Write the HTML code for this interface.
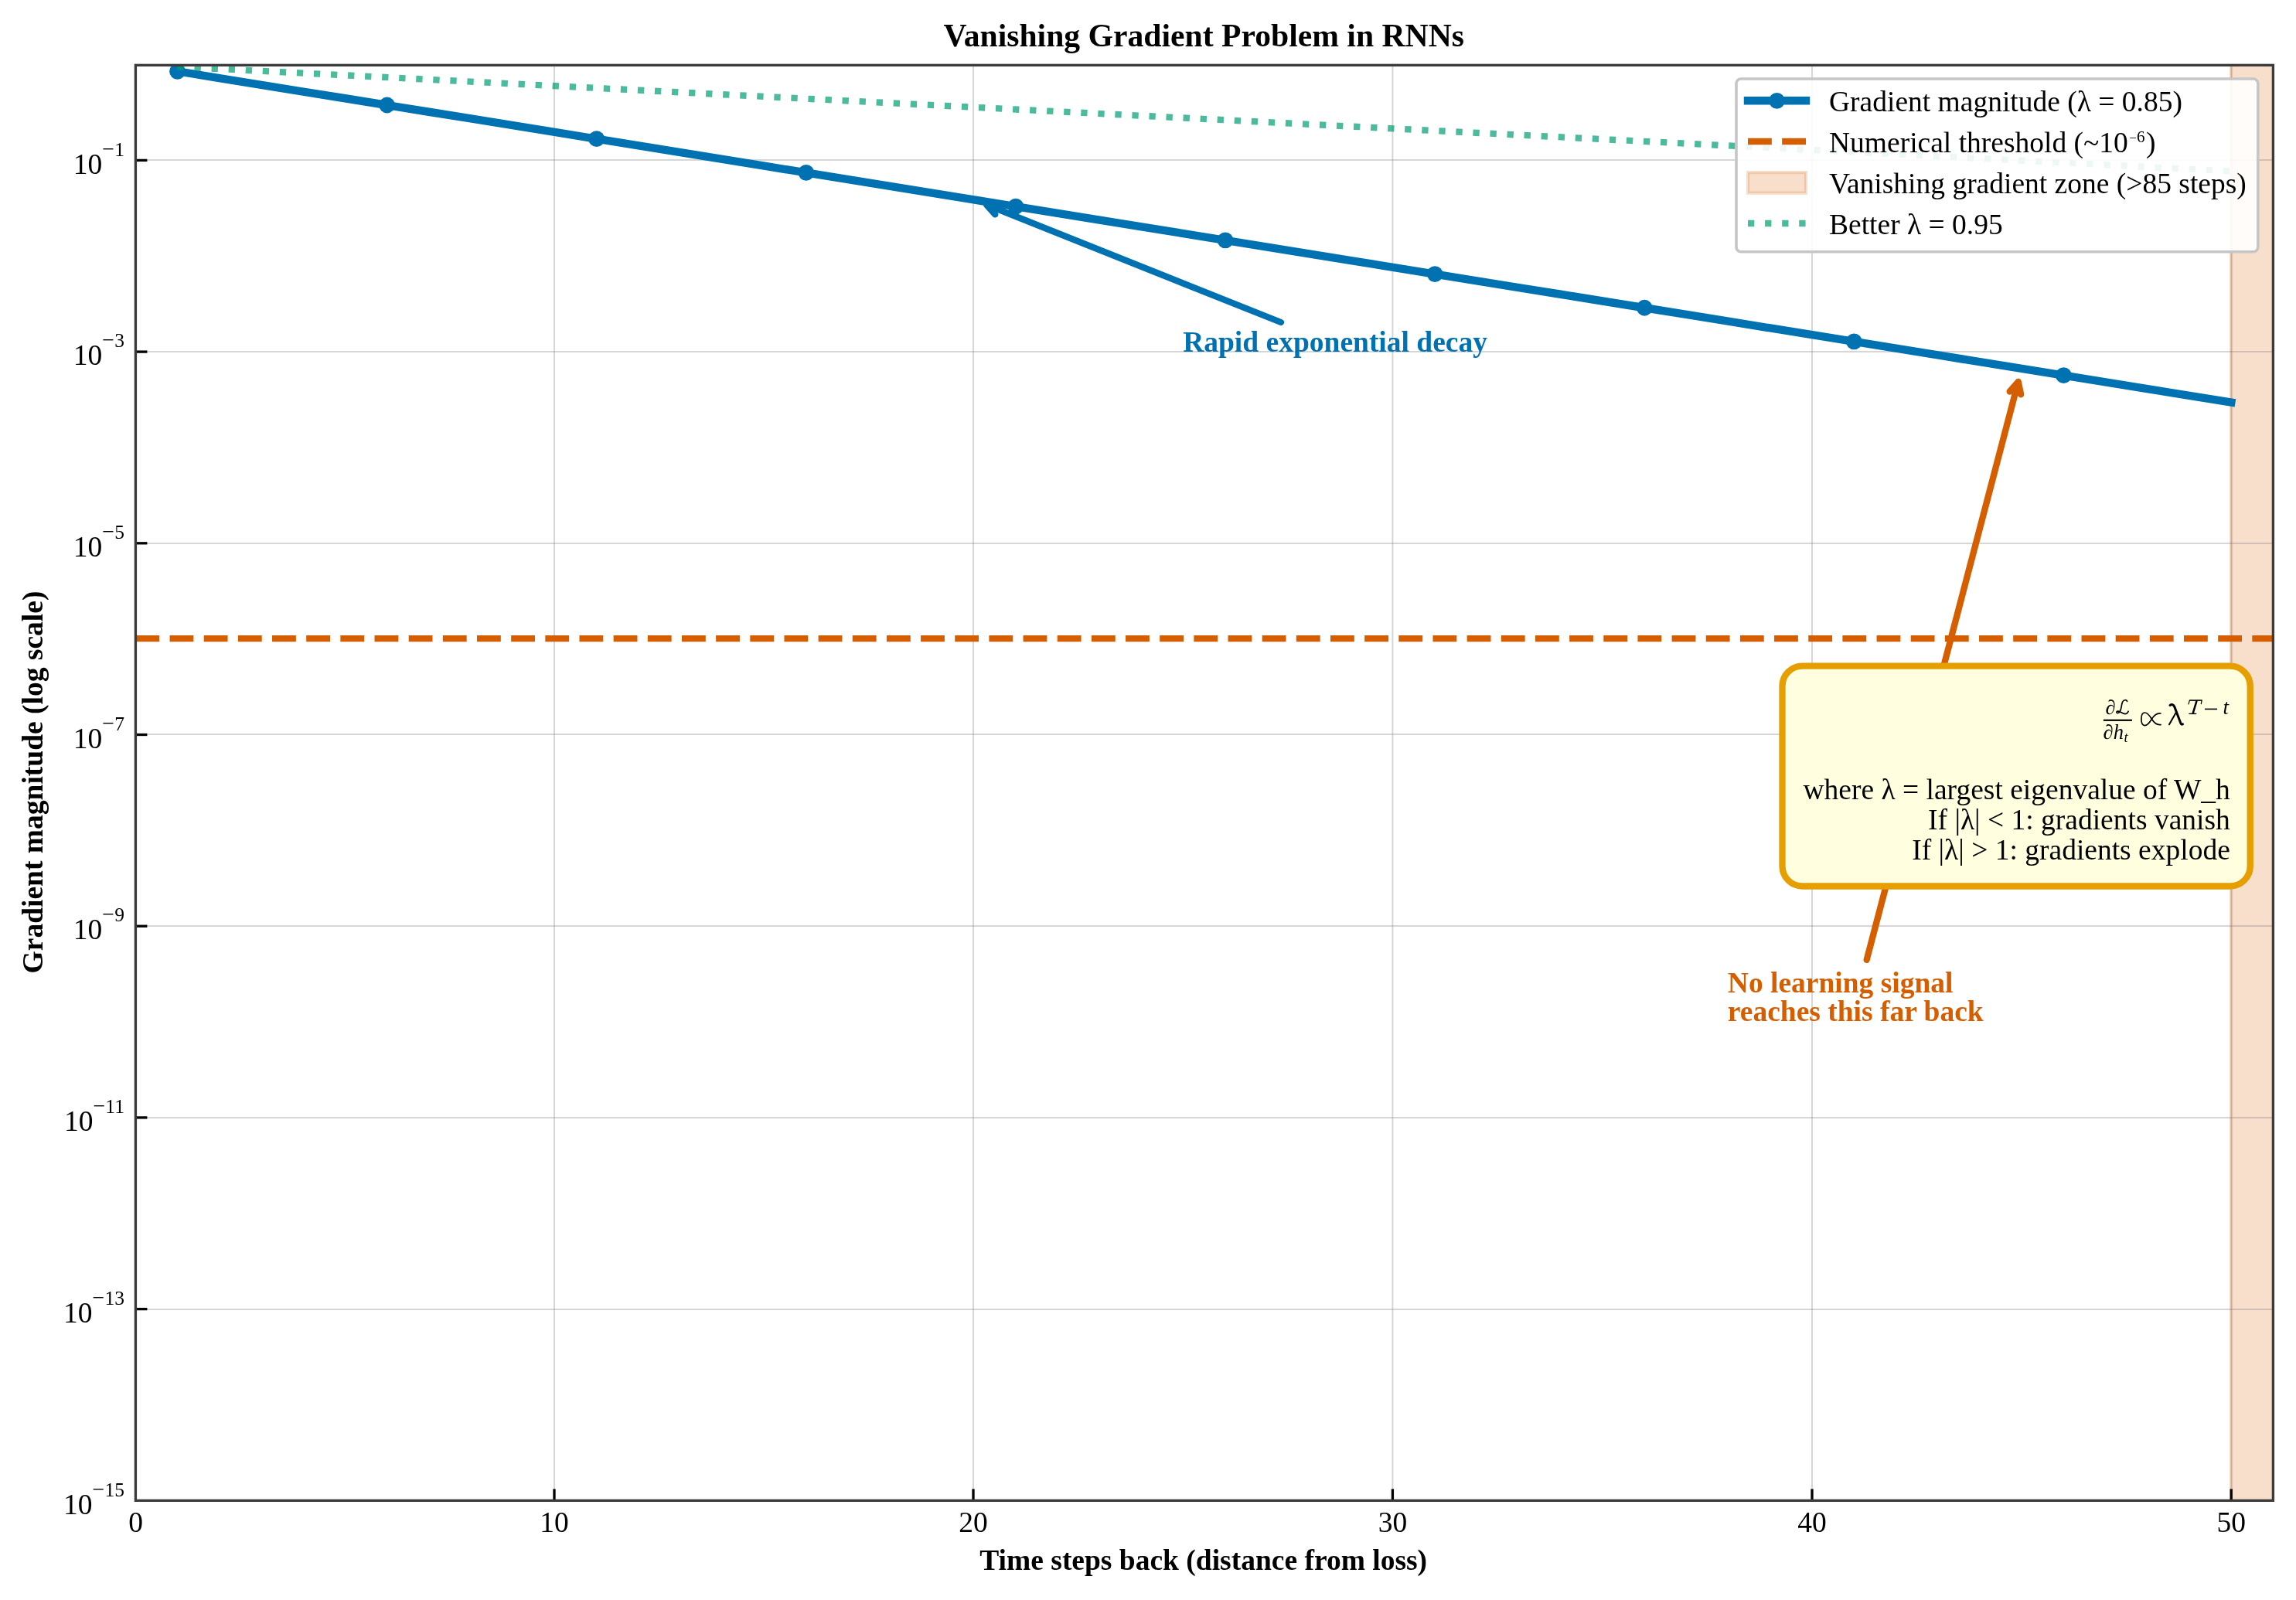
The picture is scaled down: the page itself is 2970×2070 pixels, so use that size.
<!DOCTYPE html>
<html><head><meta charset="utf-8"><title>Vanishing Gradient Problem in RNNs</title>
<style>html,body{margin:0;padding:0;background:#fff}body{width:2970px;height:2070px;overflow:hidden}svg{display:block;will-change:transform}text{font-family:"Liberation Serif",serif;}</style></head><body>
<svg width="2970" height="2070" viewBox="0 0 2970 2070">
<rect width="2970" height="2070" fill="#fff"/>
<defs><clipPath id="ax"><rect x="175.40" y="84.33" width="2765.00" height="1857.02"/></clipPath></defs>
<g clip-path="url(#ax)">
<rect x="2886.00" y="0" width="200" height="2070" fill="#D55E00" fill-opacity="0.2"/>
<line x1="2886.00" y1="0" x2="2886.00" y2="2070" stroke="#D55E00" stroke-opacity="0.2" stroke-width="4.17"/>
<rect x="716.00" y="84.33" width="2" height="1857.02" fill="#777" fill-opacity="0.3"/>
<rect x="1258.00" y="84.33" width="2" height="1857.02" fill="#777" fill-opacity="0.3"/>
<rect x="1800.40" y="84.33" width="2" height="1857.02" fill="#777" fill-opacity="0.3"/>
<rect x="2343.00" y="84.33" width="2" height="1857.02" fill="#777" fill-opacity="0.3"/>
<rect x="2885.20" y="84.33" width="2" height="1857.02" fill="#777" fill-opacity="0.3"/>
<rect x="175.40" y="206.00" width="2765.00" height="2" fill="#777" fill-opacity="0.3"/>
<rect x="175.40" y="454.00" width="2765.00" height="2" fill="#777" fill-opacity="0.3"/>
<rect x="175.40" y="702.00" width="2765.00" height="2" fill="#777" fill-opacity="0.3"/>
<rect x="175.40" y="949.00" width="2765.00" height="2" fill="#777" fill-opacity="0.3"/>
<rect x="175.40" y="1197.00" width="2765.00" height="2" fill="#777" fill-opacity="0.3"/>
<rect x="175.40" y="1445.00" width="2765.00" height="2" fill="#777" fill-opacity="0.3"/>
<rect x="175.40" y="1693.00" width="2765.00" height="2" fill="#777" fill-opacity="0.3"/>
<polyline points="229.52,92.29 283.74,101.03 337.96,109.77 392.18,118.52 446.40,127.26 500.62,136.00 554.84,144.74 609.06,153.48 663.28,162.22 717.50,170.96 771.72,179.71 825.94,188.45 880.16,197.19 934.38,205.93 988.60,214.67 1042.82,223.41 1097.04,232.15 1151.26,240.90 1205.48,249.64 1259.70,258.38 1313.92,267.12 1368.14,275.86 1422.36,284.60 1476.58,293.35 1530.80,302.09 1585.02,310.83 1639.24,319.57 1693.46,328.31 1747.68,337.05 1801.90,345.79 1856.12,354.54 1910.34,363.28 1964.56,372.02 2018.78,380.76 2073.00,389.50 2127.22,398.24 2181.44,406.98 2235.66,415.73 2289.88,424.47 2344.10,433.21 2398.32,441.95 2452.54,450.69 2506.76,459.43 2560.98,468.17 2615.20,476.92 2669.42,485.66 2723.64,494.40 2777.86,503.14 2832.08,511.88 2886.30,520.62" fill="none" stroke="#0072B2" stroke-width="10.42" stroke-linejoin="round" stroke-linecap="square"/>
<circle cx="229.52" cy="92.29" r="10.4" fill="#0072B2"/>
<circle cx="500.62" cy="136.00" r="10.4" fill="#0072B2"/>
<circle cx="771.72" cy="179.71" r="10.4" fill="#0072B2"/>
<circle cx="1042.82" cy="223.41" r="10.4" fill="#0072B2"/>
<circle cx="1313.92" cy="267.12" r="10.4" fill="#0072B2"/>
<circle cx="1585.02" cy="310.83" r="10.4" fill="#0072B2"/>
<circle cx="1856.12" cy="354.54" r="10.4" fill="#0072B2"/>
<circle cx="2127.22" cy="398.24" r="10.4" fill="#0072B2"/>
<circle cx="2398.32" cy="441.95" r="10.4" fill="#0072B2"/>
<circle cx="2669.42" cy="485.66" r="10.4" fill="#0072B2"/>
<line x1="175.40" y1="826.10" x2="2945.40" y2="826.10" stroke="#D55E00" stroke-width="8.33" stroke-dasharray="30.83 13.33"/>
<line x1="229.52" y1="86.31" x2="2886.30" y2="221.50" stroke="#009E73" stroke-opacity="0.7" stroke-width="8.33" stroke-dasharray="8.33 13.75"/>
</g>
<rect x="715.35" y="1926.35" width="3.3" height="15.00" fill="#000"/>
<rect x="1257.35" y="1926.35" width="3.3" height="15.00" fill="#000"/>
<rect x="1799.75" y="1926.35" width="3.3" height="15.00" fill="#000"/>
<rect x="2342.35" y="1926.35" width="3.3" height="15.00" fill="#000"/>
<rect x="2884.55" y="1926.35" width="3.3" height="15.00" fill="#000"/>
<rect x="175.40" y="205.75" width="15.0" height="3.3" fill="#000"/>
<rect x="175.40" y="453.45" width="15.0" height="3.3" fill="#000"/>
<rect x="175.40" y="701.15" width="15.0" height="3.3" fill="#000"/>
<rect x="175.40" y="948.85" width="15.0" height="3.3" fill="#000"/>
<rect x="175.40" y="1196.55" width="15.0" height="3.3" fill="#000"/>
<rect x="175.40" y="1444.25" width="15.0" height="3.3" fill="#000"/>
<rect x="175.40" y="1691.95" width="15.0" height="3.3" fill="#000"/>
<rect x="175.40" y="84.33" width="2765.00" height="1857.02" fill="none" stroke="#3b3b3b" stroke-width="3.33"/>
<text x="175.50" y="1981.8" font-size="37.5" text-anchor="middle">0</text>
<text x="717.00" y="1981.8" font-size="37.5" text-anchor="middle">10</text>
<text x="1259.00" y="1981.8" font-size="37.5" text-anchor="middle">20</text>
<text x="1801.40" y="1981.8" font-size="37.5" text-anchor="middle">30</text>
<text x="2344.00" y="1981.8" font-size="37.5" text-anchor="middle">40</text>
<text x="2886.20" y="1981.8" font-size="37.5" text-anchor="middle">50</text>
<text x="160.9" y="224.60" font-size="37.5" text-anchor="end">10<tspan font-size="28" dy="-22.96">−</tspan><tspan font-size="25.5">1</tspan></text>
<text x="160.9" y="472.30" font-size="37.5" text-anchor="end">10<tspan font-size="28" dy="-22.96">−</tspan><tspan font-size="25.5">3</tspan></text>
<text x="160.9" y="720.00" font-size="37.5" text-anchor="end">10<tspan font-size="28" dy="-22.96">−</tspan><tspan font-size="25.5">5</tspan></text>
<text x="160.9" y="967.70" font-size="37.5" text-anchor="end">10<tspan font-size="28" dy="-22.96">−</tspan><tspan font-size="25.5">7</tspan></text>
<text x="160.9" y="1215.40" font-size="37.5" text-anchor="end">10<tspan font-size="28" dy="-22.96">−</tspan><tspan font-size="25.5">9</tspan></text>
<text x="160.9" y="1463.10" font-size="37.5" text-anchor="end">10<tspan font-size="28" dy="-22.96">−</tspan><tspan font-size="25.5">11</tspan></text>
<text x="160.9" y="1710.80" font-size="37.5" text-anchor="end">10<tspan font-size="28" dy="-22.96">−</tspan><tspan font-size="25.5">13</tspan></text>
<text x="160.9" y="1958.50" font-size="37.5" text-anchor="end">10<tspan font-size="28" dy="-22.96">−</tspan><tspan font-size="25.5">15</tspan></text>
<text x="1557.2" y="59.8" font-size="41.67" font-weight="bold" text-anchor="middle">Vanishing Gradient Problem in RNNs</text>
<text x="1556.7" y="2031.4" font-size="37.5" font-weight="bold" text-anchor="middle">Time steps back (distance from loss)</text>
<text transform="translate(55.2 1012.0) rotate(-90)" font-size="37.5" font-weight="bold" text-anchor="middle">Gradient magnitude (log scale)</text>
<path d="M1657.00 417.00 L1276.10 264.90 M1292.81 263.50 L1276.10 264.90 L1287.25 277.43" fill="none" stroke="#0072B2" stroke-width="8.33" stroke-linecap="round" stroke-linejoin="round"/>
<text x="1530.2" y="454.9" font-size="37.5" font-weight="bold" fill="#0072B2">Rapid exponential decay</text>
<path d="M2414.66 1241.80 L2610.70 493.90 M2614.15 510.31 L2610.70 493.90 L2599.64 506.51" fill="none" stroke="#D55E00" stroke-width="8.33" stroke-linecap="round" stroke-linejoin="round"/>
<text x="2234.8" y="1283.6" font-size="37.5" font-weight="bold" fill="#D55E00">No learning signal</text>
<text x="2234.8" y="1320.6" font-size="37.5" font-weight="bold" fill="#D55E00">reaches this far back</text>
<rect x="2305.5" y="861.7" width="605.25" height="284.8" rx="26" ry="26" fill="#FFFFE0" stroke="#E69F00" stroke-width="8.33"/>
<text x="2884.8" y="1033.7" font-size="37.5" text-anchor="end">where λ = largest eigenvalue of W_h</text>
<text x="2884.8" y="1072.75" font-size="37.5" text-anchor="end">If |λ| &lt; 1: gradients vanish</text>
<text x="2884.8" y="1111.8" font-size="37.5" text-anchor="end">If |λ| &gt; 1: gradients explode</text>

<g id="math">
<rect x="2720.9" y="930.7" width="37.0" height="2.2" fill="#000"/>
<text x="2723.6" y="924.0" font-size="26.5" font-style="italic">∂</text>
<path d="M2751.6 907.3 C2750.6 905.0 2747.2 905.1 2745.6 908.2 C2743.9 911.6 2744.6 916.5 2742.3 920.3 C2741.2 922.2 2739.3 923.1 2738.2 922.2 C2737.3 921.3 2738.3 919.9 2739.9 920.1 C2743.2 920.6 2746.0 923.9 2749.4 923.6 C2751.3 923.4 2752.5 922.0 2753.1 920.2" fill="none" stroke="#000" stroke-width="1.7" stroke-linecap="round"/>
<text x="2720.6" y="955.8" font-size="26.5" font-style="italic">∂h</text>
<text x="2747.4" y="959.8" font-size="18.4" font-style="italic">t</text>
<path d="M2795.0 923.0 C2789.5 922.2 2786.3 925.6 2783.4 930.3 C2780.4 935.3 2777.6 938.6 2774.4 938.6 C2771.6 938.6 2769.9 935.2 2769.9 930.3 C2769.9 925.4 2771.6 922.0 2774.4 922.0 C2777.6 922.0 2780.4 925.3 2783.4 930.3 C2786.3 935.0 2789.5 938.4 2795.0 937.6" fill="none" stroke="#000" stroke-width="1.7" stroke-linecap="round"/>
<path d="M2807.0 912.4 C2809.2 910.9 2811.6 911.4 2812.8 914.4 L2821.0 936.0 C2821.5 937.3 2822.4 937.5 2823.5 936.8" fill="none" stroke="#000" stroke-width="3.0" stroke-linecap="round" stroke-linejoin="round"/>
<path d="M2815.0 921.5 L2806.0 937.3" fill="none" stroke="#000" stroke-width="2.0" stroke-linecap="round"/>
<path d="M2832.3 906.1 L2848.4 906.1" stroke="#000" stroke-width="1.6" fill="none"/>
<path d="M2832.6 905.6 L2830.8 911.4 M2848.2 905.6 L2847.2 911.2" stroke="#000" stroke-width="1.2" fill="none"/>
<path d="M2841.7 906.2 L2836.6 923.2" stroke="#000" stroke-width="2.5" fill="none"/>
<path d="M2831.4 923.4 L2841.2 923.4" stroke="#000" stroke-width="1.4" fill="none"/>
<rect x="2852.0" y="916.6" width="16.1" height="1.6" fill="#000"/>
<text x="2875.6" y="924.0" font-size="27" font-style="italic">t</text>
</g>

<rect x="2246.0" y="102.0" width="674.8" height="223.8" rx="6" ry="6" fill="#fff" fill-opacity="0.9" stroke="#c6c6c6" stroke-width="3.6"/>
<line x1="2261" y1="130.2" x2="2336" y2="130.2" stroke="#0072B2" stroke-width="10.42" stroke-linecap="square"/>
<circle cx="2298.5" cy="130.4" r="10.4" fill="#0072B2"/>
<line x1="2261" y1="183.0" x2="2336" y2="183.0" stroke="#D55E00" stroke-width="8.33" stroke-dasharray="30.83 13.33"/>
<rect x="2261" y="223.1" width="75" height="26.6" fill="#D55E00" fill-opacity="0.2" stroke="#D55E00" stroke-opacity="0.2" stroke-width="4.17"/>
<line x1="2261" y1="289.0" x2="2336" y2="289.0" stroke="#009E73" stroke-opacity="0.7" stroke-width="8.33" stroke-dasharray="8.33 13.75"/>
<text x="2366" y="143.8" font-size="37.5">Gradient magnitude (λ = 0.85)</text>
<text x="2366" y="196.8" font-size="37.5">Numerical threshold (~10<tspan font-size="17" dy="-13.0" dx="1.5">−</tspan><tspan font-size="21" dy="0.6">6</tspan><tspan dy="12.4" dx="1.5">)</tspan></text>
<text x="2366" y="249.8" font-size="37.5">Vanishing gradient zone (&gt;85 steps)</text>
<text x="2366" y="302.8" font-size="37.5">Better λ = 0.95</text>
</svg></body></html>
